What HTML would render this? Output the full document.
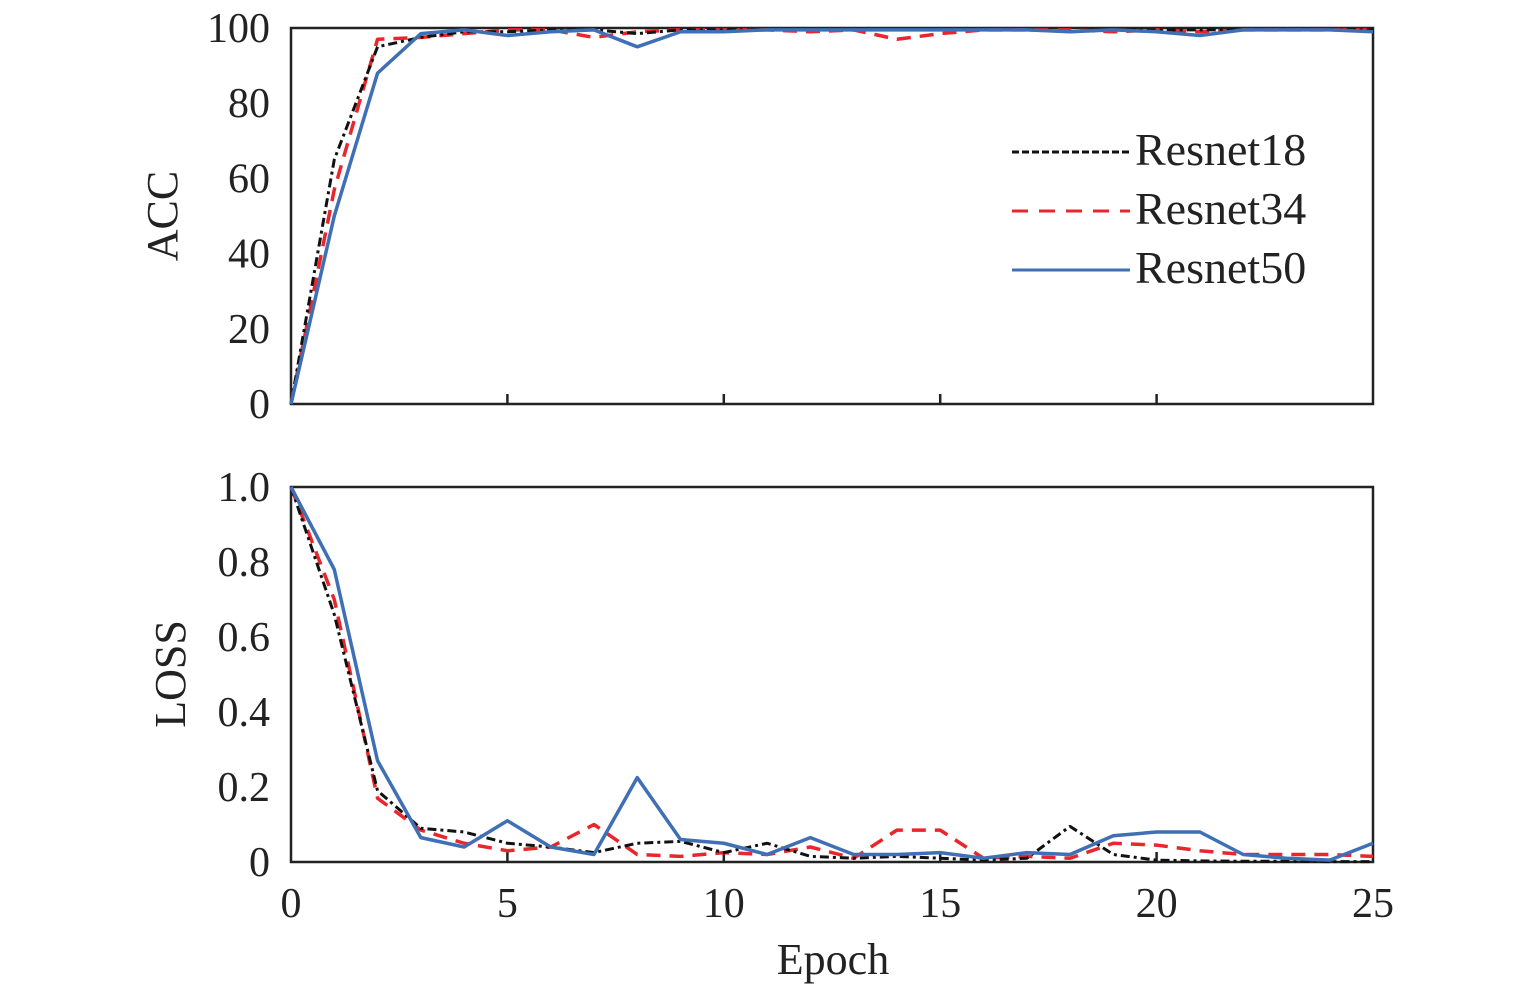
<!DOCTYPE html>
<html><head><meta charset="utf-8"><style>
html,body{margin:0;padding:0;background:#fff;}
svg text{font-family:"Liberation Serif",serif;fill:#222;}
</style></head><body>
<svg width="1535" height="989" viewBox="0 0 1535 989" xmlns="http://www.w3.org/2000/svg">
<g id="g"></g>
</svg>
<script>
const X0=291,X1=1373;const px=e=>X0+(X1-X0)*e/25;
const ns="http://www.w3.org/2000/svg";const g=document.getElementById('g');
function el(t,a,txt){const e=document.createElementNS(ns,t);for(const k in a)e.setAttribute(k,a[k]);if(txt!==undefined)e.textContent=txt;g.appendChild(e);return e;}
function poly(vals,fy,stroke,dash,w){el('polyline',{points:vals.map((v,i)=>px(i)+','+fy(v)).join(' '),fill:'none',stroke:stroke,'stroke-width':w,'stroke-dasharray':dash,'stroke-linejoin':'round'});}
const ya=v=>404-376*v/100;
const accB=[0,50,88,98.5,99.5,98,99,99.5,95,99,99,99.5,99.5,99.5,99.5,99.5,99.5,99.5,99,99.5,99,98,99.5,99.5,99.5,99];
const accK=[0,65,95,97.5,99,99,99.5,99.5,98.5,99.5,99.5,99.5,99.5,99.5,99.5,99.5,99.5,99.5,99,99.5,99.5,99.5,99.5,99.5,99.5,99.5];
const accR=[0,57,97,97.5,98.5,99.5,99.5,97.5,99,99.5,99.5,99.5,99,99.5,97,98.5,99.5,99.5,99.5,99,99.5,99,99.5,99.5,99.5,99.5];
const yl=v=>862-375*v;
const lB=[1,0.78,0.27,0.065,0.04,0.11,0.04,0.02,0.225,0.06,0.05,0.02,0.065,0.02,0.02,0.025,0.01,0.025,0.02,0.07,0.08,0.08,0.02,0.01,0.005,0.05];
const lK=[1,0.66,0.19,0.09,0.08,0.05,0.04,0.025,0.05,0.055,0.025,0.05,0.015,0.01,0.015,0.01,0.005,0.01,0.095,0.02,0.005,0.003,0.002,0.002,0.001,0.001];
const lR=[1,0.7,0.17,0.085,0.05,0.03,0.04,0.1,0.02,0.015,0.025,0.02,0.04,0.01,0.085,0.085,0.01,0.015,0.01,0.05,0.045,0.03,0.02,0.02,0.02,0.015];
[[28,404],[487,862]].forEach(([t,b])=>{
 el('rect',{x:X0,y:t,width:X1-X0,height:b-t,fill:'none',stroke:'#222','stroke-width':2.5});
 for(let e=5;e<25;e+=5)el('line',{x1:px(e),x2:px(e),y1:b,y2:b-10,stroke:'#222','stroke-width':2.5});
});
poly(accR,ya,'#e8262b','14 9',3.5);poly(accK,ya,'#111','9 4 3 4',3);poly(accB,ya,'#3f6fb5','',3.5);
poly(lR,yl,'#e8262b','14 9',3.5);poly(lK,yl,'#111','9 4 3 4',3);poly(lB,yl,'#3f6fb5','',3.5);
[0,20,40,60,80,100].forEach(v=>el('text',{x:270,y:ya(v)+14,'font-size':42,'text-anchor':'end'},v));
['0','0.2','0.4','0.6','0.8','1.0'].forEach((s,i)=>el('text',{x:270,y:yl(i*0.2)+14,'font-size':42,'text-anchor':'end'},s));
[0,5,10,15,20,25].forEach(e=>el('text',{x:px(e),y:917,'font-size':42,'text-anchor':'middle'},e));
el('text',{x:833,y:974,'font-size':44,'text-anchor':'middle'},'Epoch');
el('text',{x:0,y:0,'font-size':44,'text-anchor':'middle',transform:'translate(177,216) rotate(-90)'},'ACC');
el('text',{x:0,y:0,'font-size':44,'text-anchor':'middle',transform:'translate(185,674) rotate(-90)'},'LOSS');
el('line',{x1:1012,x2:1130,y1:152,y2:152,stroke:'#111','stroke-width':3,'stroke-dasharray':'7 3'});
el('line',{x1:1012,x2:1130,y1:211,y2:211,stroke:'#e8262b','stroke-width':3,'stroke-dasharray':'16 11'});
el('line',{x1:1012,x2:1130,y1:270,y2:270,stroke:'#3f6fb5','stroke-width':3});
[['Resnet18',165],['Resnet34',224],['Resnet50',283]].forEach(([t,y])=>el('text',{x:1135,y:y,'font-size':46},t));
</script>
</body></html>
